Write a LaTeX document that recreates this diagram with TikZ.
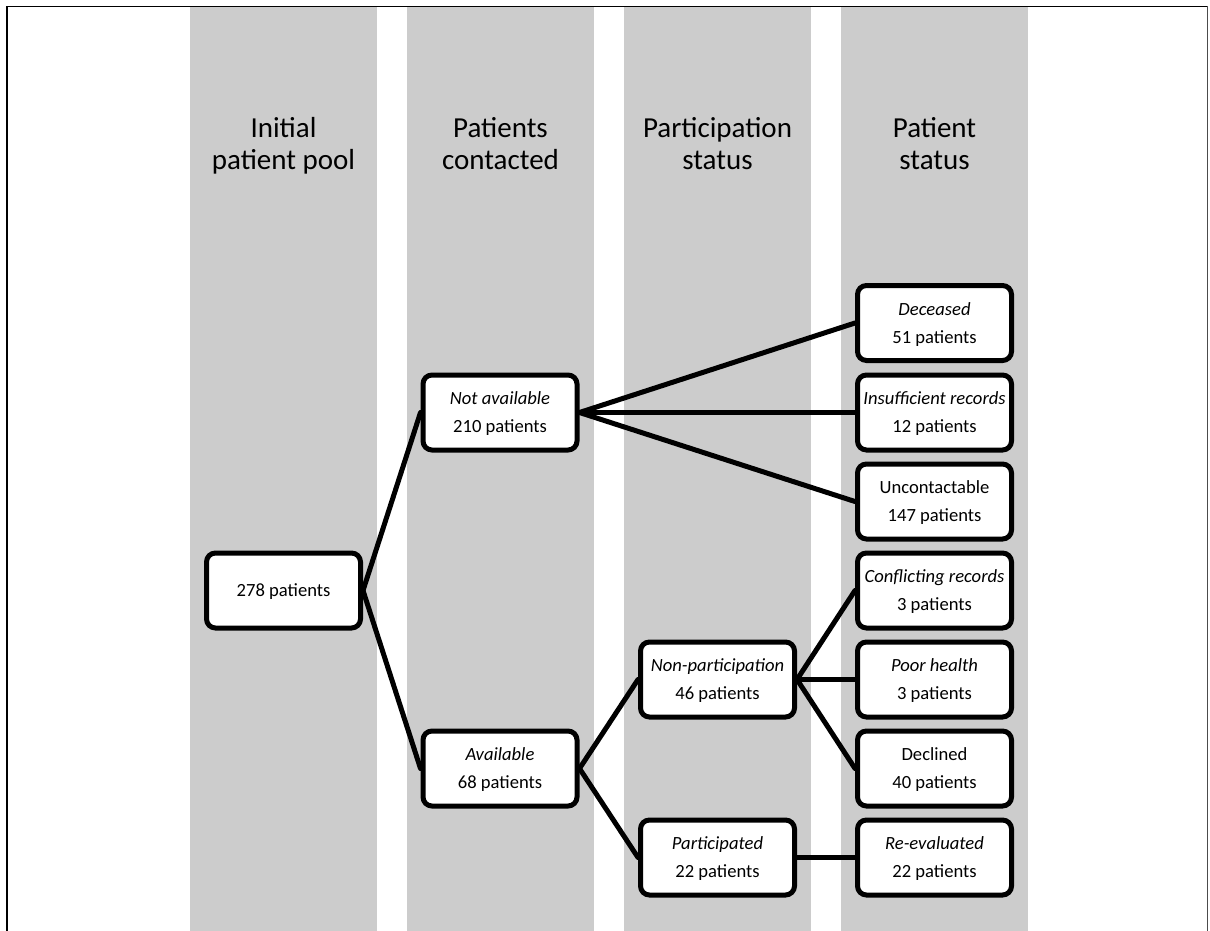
\documentclass[tikz,border=0pt]{standalone}
\usepackage{fontspec}
\setmainfont{Carlito}
\definecolor{colgrey}{RGB}{204,204,204}
\tikzset{
  lane/.style={fill=colgrey, draw=none},
  head/.style={align=center, font=\fontsize{29}{31.5}\selectfont, inner sep=0pt, anchor=base},
  box/.style={draw=black, fill=white, line width=5pt, rounded corners=9pt,
    minimum width=154pt, minimum height=75pt, inner sep=0pt, align=center,
    font=\fontsize{18.6}{28}\selectfont, text height=45pt, text depth=5pt},
  onebox/.style={box, text height=17pt, text depth=5pt},
  link/.style={draw=black, line width=5pt, line cap=round}
}
\begin{document}
\begin{tikzpicture}[x=1pt,y=-1pt]
\useasboundingbox (0,0) rectangle (1210,931);
% frame
\draw[line width=2pt] (7,931) -- (7,6.5);
\draw[line width=1.3pt] (6,6.5) -- (1208,6.5);
\draw[line width=0.9pt, black!70] (1207.5,6.5) -- (1207.5,931);
% lanes
\fill[lane] (190,7.5) rectangle (377,931);
\fill[lane] (407,7.5) rectangle (594,931);
\fill[lane] (624,7.5) rectangle (811,931);
\fill[lane] (841,7.5) rectangle (1028,931);
% headers
\node[head] (h1) at (283.5,169) {Initial\\patient pool};
\node[head] (h2) at (500.5,169) {Patients\\contacted};
\node[head] (h3) at (717.5,169) {Participation\\status};
\node[head] (h4) at (934.5,169) {Patient\\status};
% boxes
\node[onebox] (pool) at (283.5,590.5) {278 patients};
\node[box] (notav) at (500,412.5) {\textit{Not available}\\210 patients};
\node[box] (avail) at (500,768.5) {\textit{Available}\\68 patients};
\node[box] (nonp) at (717.5,679.5) {\textit{Non-participation}\\46 patients};
\node[box] (part) at (717.5,857.5) {\textit{Participated}\\22 patients};
\node[box] (dec) at (934.5,323) {\textit{Deceased}\\51 patients};
\node[box] (ins) at (934.5,412.5) {\textit{Insufficient records}\\12 patients};
\node[box] (unc) at (934.5,501.5) {Uncontactable\\147 patients};
\node[box] (conf) at (934.5,590.5) {\textit{Conflicting records}\\3 patients};
\node[box] (poor) at (934.5,679.5) {\textit{Poor health}\\3 patients};
\node[box] (decl) at (934.5,768.5) {Declined\\40 patients};
\node[box] (reev) at (934.5,857.5) {\textit{Re-evaluated}\\22 patients};
% connectors
\draw[link] (pool.east) -- (notav.west);
\draw[link] (pool.east) -- (avail.west);
\draw[link] (notav.east) -- (dec.west);
\draw[link] (notav.east) -- (ins.west);
\draw[link] (notav.east) -- (unc.west);
\draw[link] (avail.east) -- (nonp.west);
\draw[link] (avail.east) -- (part.west);
\draw[link] (nonp.east) -- (conf.west);
\draw[link] (nonp.east) -- (poor.west);
\draw[link] (nonp.east) -- (decl.west);
\draw[link] (part.east) -- (reev.west);
\end{tikzpicture}
\end{document}
